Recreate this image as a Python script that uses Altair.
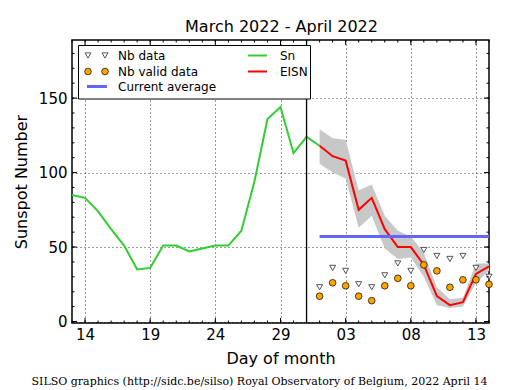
import altair as alt
import pandas as pd

# ---- data ----
sn_days = list(range(13, 33))  # day index: March d = d, April d = 31 + d
sn_values = [85, 83, 74, 62, 51, 35, 36, 51, 51, 47, 49, 51, 51, 61, 94, 136, 144, 113, 124, 118]

eisn_days = list(range(32, 46))
eisn_values = [118, 111, 108, 75, 83, 62, 50, 50, 38, 17, 11, 13, 32, 37]
eisn_upper = [129, 123, 122, 88, 92, 71, 61, 57, 46, 23, 15, 16, 39, 39]
eisn_lower = [106, 100, 96, 63, 71, 49, 42, 43, 30, 11, 9, 10, 26, 34]
nb_data = [23, 36, 34, 25, 23, 31, 39, 34, 48, 44, 42, 44, 36, 30]
nb_valid = [17, 26, 24, 17, 14, 24, 29, 24, 38, 34, 23, 28, 28, 25]
avg_days = [32, 45]
current_average = 57
split_day = 31

x_tick_values = [14, 19, 24, 29, 34, 39, 44]
x_tick_labels = ["14", "19", "24", "29", "03", "08", "13"]
y_tick_values = [0, 50, 100, 150]
x_minor_values = list(range(13, 46))
y_minor_values = list(range(0, 190, 10))

title_text = "March 2022 - April 2022"
footer_text = "SILSO graphics (http://sidc.be/silso) Royal Observatory of Belgium, 2022 April 14"

# ---- tables ----
sn_df = pd.DataFrame({"day": sn_days, "value": sn_values})
eisn_df = pd.DataFrame({"day": eisn_days, "value": eisn_values, "lo": eisn_lower, "hi": eisn_upper,
                        "nb": nb_data, "nbv": nb_valid})
avg_df = pd.DataFrame({"day": [avg_days[0]], "day2": [avg_days[1]], "value": [current_average]})
split_df = pd.DataFrame({"day": [split_day]})
xmaj_df = pd.DataFrame({"day": x_tick_values})
xmin_df = pd.DataFrame({"day": x_minor_values})
ymaj_df = pd.DataFrame({"value": y_tick_values})
ymin_df = pd.DataFrame({"value": y_minor_values})
dummy = pd.DataFrame({"k": [0]})

W, H = 417, 283
FONT = "DejaVu Sans"

xs = alt.Scale(domain=[13, 45], nice=False, zero=False)
ys = alt.Scale(domain=[-1, 189], nice=False, zero=False)

label_expr = " : ".join(
    f"datum.value == {v} ? '{l}'" for v, l in zip(x_tick_values, x_tick_labels)
) + " : ''"

x_axis = alt.Axis(values=x_tick_values, labelExpr=label_expr, title="Day of month",
                  grid=True, gridColor="black", gridDash=[1, 3], gridWidth=0.8,
                  ticks=False, tickSize=0, domain=False,
                  labelFont=FONT, labelFontSize=15, labelColor="black", labelPadding=4,
                  titleFont=FONT, titleFontSize=16, titleFontWeight="normal", titleColor="black",
                  titleY=40, titleBaseline="alphabetic")
y_axis = alt.Axis(values=y_tick_values, title="Sunspot Number",
                  grid=True, gridColor="black", gridDash=[1, 3], gridWidth=0.8,
                  ticks=False, tickSize=0, domain=False,
                  labelFont=FONT, labelFontSize=15, labelColor="black", labelPadding=5,
                  titleFont=FONT, titleFontSize=16, titleFontWeight="normal", titleColor="black",
                  titleX=-50.5, titleY=H / 2, titleAngle=270, titleAlign="center", titleBaseline="middle")

X = lambda f="day": alt.X(f"{f}:Q", scale=xs, axis=x_axis)
Y = lambda f="value": alt.Y(f"{f}:Q", scale=ys, axis=y_axis)

band = alt.Chart(eisn_df).mark_area(color="#c8c8c8", opacity=1).encode(
    x=X(), y=Y("lo"), y2="hi:Q")

sn_line = alt.Chart(sn_df).mark_line(color="#32cd32", strokeWidth=2).encode(x=X(), y=Y())

eisn_line = alt.Chart(eisn_df).mark_line(color="#ff0000", strokeWidth=2).encode(x=X(), y=Y())

avg_rule = alt.Chart(avg_df).mark_rule(color="#6464ff", strokeWidth=3).encode(
    x=X(), x2="day2:Q", y=Y())

split_rule = alt.Chart(split_df).mark_rule(color="black", strokeWidth=1.3).encode(x=X())

tri = alt.Chart(eisn_df).mark_point(shape="triangle-down", filled=True, fill="white",
                                    stroke="#555555", strokeWidth=1, size=36, opacity=1).encode(
    x=X(), y=Y("nb"))
circ = alt.Chart(eisn_df).mark_point(shape="circle", filled=True, fill="#ffa500",
                                     stroke="black", strokeWidth=0.7, size=45, opacity=1).encode(
    x=X(), y=Y("nbv"))

# inward ticks (matplotlib style, on all four sides)
def xticks(df, y0, y1):
    return alt.Chart(df).mark_rule(color="black", strokeWidth=1).encode(
        x=X(), y=alt.value(y0), y2=alt.value(y1))

def yticks(df, x0, x1):
    return alt.Chart(df).mark_rule(color="black", strokeWidth=1).encode(
        y=Y(), x=alt.value(x0), x2=alt.value(x1))

tick_layers = [
    xticks(xmin_df, H, H - 2.5), xticks(xmin_df, 0, 2.5),
    xticks(xmaj_df, H, H - 5), xticks(xmaj_df, 0, 5),
    yticks(ymin_df, 0, 2.5), yticks(ymin_df, W, W - 2.5),
    yticks(ymaj_df, 0, 5), yticks(ymaj_df, W, W - 5),
]

# legend (drawn inside the plot, matplotlib style)
def leg_text(label, x, y):
    return alt.Chart(dummy).mark_text(align="left", baseline="middle", font=FONT,
                                      fontSize=12, color="black").encode(
        x=alt.value(x), y=alt.value(y), text=alt.value(label))

def leg_line(color, x0, x1, y, w):
    return alt.Chart(dummy).mark_rule(color=color, strokeWidth=w).encode(
        x=alt.value(x0), x2=alt.value(x1), y=alt.value(y))

def leg_tri(x, y):
    return alt.Chart(dummy).mark_point(shape="triangle-down", filled=True, fill="white",
                                       stroke="#555555", strokeWidth=1, size=36, opacity=1).encode(
        x=alt.value(x), y=alt.value(y))

def leg_circ(x, y):
    return alt.Chart(dummy).mark_point(shape="circle", filled=True, fill="#ffa500",
                                       stroke="black", strokeWidth=0.7, size=45, opacity=1).encode(
        x=alt.value(x), y=alt.value(y))

legend_box = alt.Chart(dummy).mark_rect(fill="white", stroke="black", strokeWidth=1).encode(
    x=alt.value(6.5), x2=alt.value(238.5), y=alt.value(5.5), y2=alt.value(59))

r1, r2, r3 = 15.5, 31.5, 46.5
legend_layers = [
    legend_box,
    leg_tri(16, r1), leg_tri(33, r1), leg_text("Nb data", 46, r1),
    leg_circ(16, r2), leg_circ(33, r2), leg_text("Nb valid data", 46, r2),
    leg_line("#6464ff", 15, 35, r3, 3), leg_text("Current average", 46, r3),
    leg_line("#32cd32", 176, 195, r1, 2), leg_text("Sn", 208, r1),
    leg_line("#ff0000", 176, 195, r2, 2), leg_text("EISN", 208, r2),
]

title = alt.Chart(dummy).mark_text(align="center", baseline="alphabetic", font=FONT,
                                   fontSize=16, color="black").encode(
    x=alt.value(W / 2 + 1), y=alt.value(-8.5), text=alt.value(title_text))

footer = alt.Chart(dummy).mark_text(align="center", baseline="alphabetic", font="DejaVu Serif",
                                    fontSize=11, color="black").encode(
    x=alt.value(187.5), y=alt.value(344.5), text=alt.value(footer_text))

chart = alt.layer(
    band, sn_line, eisn_line, avg_rule, split_rule, tri, circ,
    *tick_layers, *legend_layers, title, footer
).properties(
    width=W, height=H,
    background="white",
    padding={"left": 64, "top": 32, "right": 18, "bottom": 64},
    autosize=alt.AutoSizeParams(type="none"),
).configure_view(stroke="black", strokeWidth=1.5)

chart.save("out.html", embed_options={"renderer": "svg", "actions": False})
